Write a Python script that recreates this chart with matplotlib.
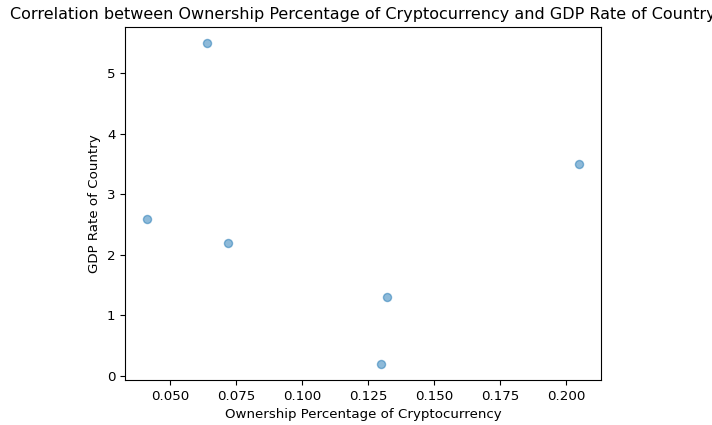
import matplotlib
matplotlib.use("Agg")
import matplotlib.pyplot as plt

# Share of population owning cryptocurrency vs. GDP growth rate
ownership_pct = [0.041, 0.064, 0.072, 0.130, 0.132, 0.205]
gdp_rate = [2.6, 5.5, 2.2, 0.2, 1.3, 3.5]

fig = plt.figure(figsize=(7.12, 4.25), dpi=100)
ax = fig.add_axes([0.1756, 0.106, 0.6685, 0.8305])

ax.scatter(ownership_pct, gdp_rate, alpha=0.5, s=34)

ax.set_title("Correlation between Ownership Percentage of Cryptocurrency and GDP Rate of Country",
             fontsize=11.5)
ax.set_xlabel("Ownership Percentage of Cryptocurrency", fontsize=9.6)
ax.set_ylabel("GDP Rate of Country", fontsize=9.6)
ax.tick_params(labelsize=9.6)

fig.savefig("out.png", dpi=100)
